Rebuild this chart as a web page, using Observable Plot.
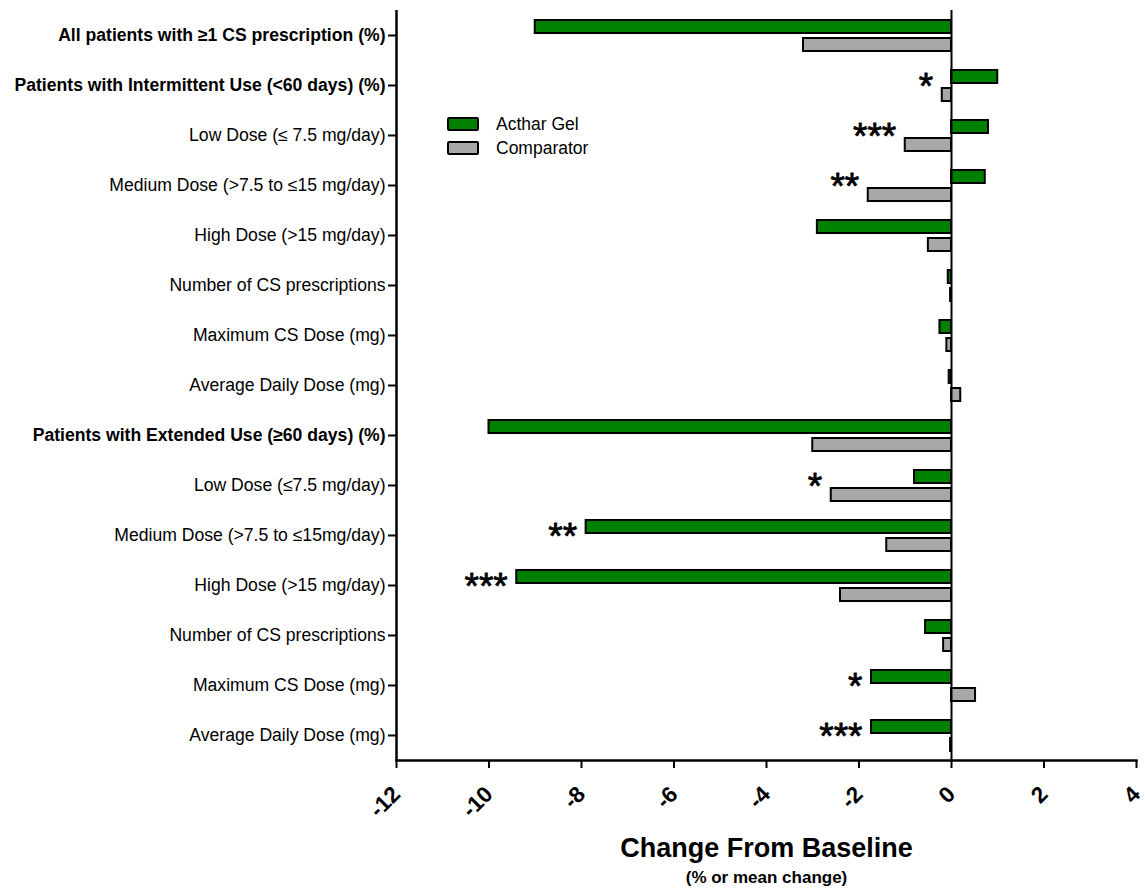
<!DOCTYPE html>
<html>
<head>
<meta charset="utf-8">
<script src="https://cdn.jsdelivr.net/npm/d3@7"></script>
<script src="https://cdn.jsdelivr.net/npm/@observablehq/plot@0.6"></script>
<style>
  html, body { margin: 0; padding: 0; background: #ffffff; }
  #chart { position: relative; width: 1145px; height: 889px; font-family: "Liberation Sans", Arial, sans-serif; }
  .legend { position: absolute; left: 447px; top: 112px; font-size: 17.5px; color: #000; }
  .legend .item { display: flex; align-items: center; height: 24px; }
  .legend .sw { width: 28px; height: 10px; border: 2px solid #000; border-radius: 2px; margin-right: 17px; }
</style>
</head>
<body>
<div id="chart"></div>
<script>
// ---- Data ----
const categories = [
  "All patients with \u22651 CS prescription (%)",
  "Patients with Intermittent Use (<60 days) (%)",
  "Low Dose (\u2264 7.5 mg/day)",
  "Medium Dose (>7.5 to \u226415 mg/day)",
  "High Dose (>15 mg/day)",
  "Number of CS prescriptions",
  "Maximum CS Dose (mg)",
  "Average Daily Dose (mg)",
  "Patients with Extended Use (\u226560 days) (%)",
  "Low Dose (\u22647.5 mg/day)",
  "Medium Dose (>7.5 to \u226415mg/day)",
  "High Dose (>15 mg/day)",
  "Number of CS prescriptions",
  "Maximum CS Dose (mg)",
  "Average Daily Dose (mg)"
];
const boldRows = [0, 1, 8];
const series = ["Acthar Gel", "Comparator"];
const seriesColors = ["#008000", "#a8a8ab"];
const actharGel = [-9.0, 1.0, 0.8, 0.73, -2.9, -0.07, -0.25, -0.05, -10.0, -0.8, -7.9, -9.4, -0.56, -1.73, -1.73];
const comparator = [-3.2, -0.2, -1.0, -1.8, -0.5, -0.02, -0.1, 0.2, -3.0, -2.6, -1.4, -2.4, -0.17, 0.52, -0.02];
const significance = ["", "*", "***", "**", "", "", "", "", "", "*", "**", "***", "", "*", "***"];
const xTicks = [-12, -10, -8, -6, -4, -2, 0, 2, 4];
const xTitle = "Change From Baseline";
const xSubtitle = "(% or mean change)";

// ---- Tables built from the arrays ----
const idx = categories.map((_, i) => i);
const acRows = idx.map(i => ({i, value: actharGel[i]}));
const cpRows = idx.map(i => ({i, value: comparator[i]}));
const starRows = idx.filter(i => significance[i]).map(i => ({i, text: significance[i], x: Math.min(0, actharGel[i], comparator[i])}));
const normalRows = idx.filter(i => !boldRows.includes(i));

const chart = Plot.plot({
  width: 1145,
  height: 889,
  marginLeft: 396,
  marginRight: 9,
  marginTop: 10,
  marginBottom: 129,
  style: {fontFamily: "'Liberation Sans', Arial, sans-serif", color: "#000", background: "#fff", overflow: "visible"},
  x: {domain: [-12, 4]},
  y: {type: "band", domain: idx, padding: 0},
  marks: [
    Plot.barX(acRows, {x1: 0, x2: "value", y: "i", fill: seriesColors[0], stroke: "#000", strokeWidth: 2, insetTop: 10, insetBottom: 27}),
    Plot.barX(cpRows, {x1: 0, x2: "value", y: "i", fill: seriesColors[1], stroke: "#000", strokeWidth: 2, insetTop: 28, insetBottom: 9}),
    Plot.ruleX([0], {stroke: "#000", strokeWidth: 2}),
    Plot.ruleX([-12], {stroke: "#000", strokeWidth: 2.5}),
    Plot.frame({anchor: "bottom", stroke: "#000", strokeWidth: 2.5}),
    Plot.text(starRows, {x: "x", y: "i", text: "text", textAnchor: "end", dx: -9, dy: 2, fontSize: 37, fill: "#000", stroke: "#000", strokeWidth: 0.8}),
    Plot.axisY({ticks: boldRows, tickFormat: i => categories[i], fontSize: 17.6, fontWeight: "bold", tickSize: 8, tickPadding: 3, strokeWidth: 2, label: null}),
    Plot.axisY({ticks: normalRows, tickFormat: i => categories[i], fontSize: 17.6, tickSize: 8, tickPadding: 3, strokeWidth: 2, label: null}),
    Plot.axisX({ticks: xTicks, tickFormat: d => String(d), tickRotate: -45, tickSize: 8, tickPadding: 22, fontSize: 22.5, fontWeight: "bold", strokeWidth: 2, label: null}),
    Plot.text([xTitle], {frameAnchor: "bottom", text: d => d, dy: 96, fontSize: 27, fontWeight: "bold", fill: "#000"}),
    Plot.text([xSubtitle], {frameAnchor: "bottom", text: d => d, dy: 122, fontSize: 17, fontWeight: "bold", fill: "#000"})
  ]
});

const root = document.getElementById("chart");
root.appendChild(chart);
const legend = document.createElement("div");
legend.className = "legend";
series.forEach((s, k) => {
  const item = document.createElement("div");
  item.className = "item";
  const sw = document.createElement("span");
  sw.className = "sw";
  sw.style.background = seriesColors[k];
  const lab = document.createElement("span");
  lab.textContent = s;
  item.appendChild(sw);
  item.appendChild(lab);
  legend.appendChild(item);
});
root.appendChild(legend);
</script>
</body>
</html>
